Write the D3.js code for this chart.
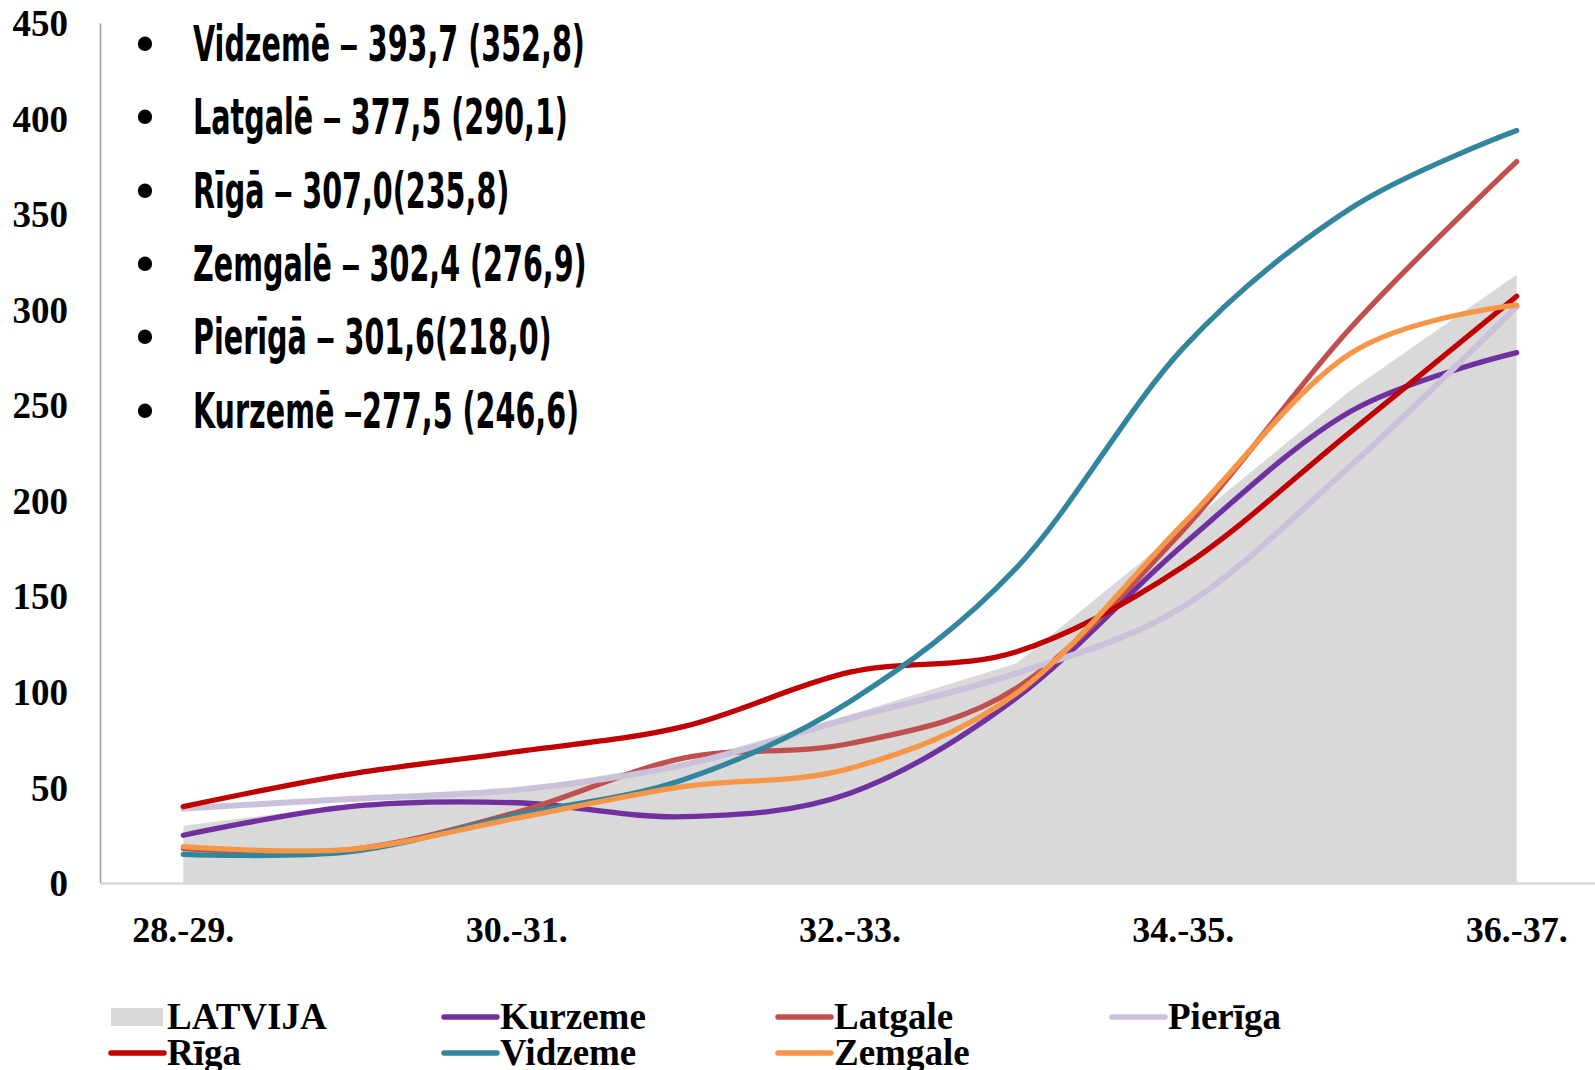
<!DOCTYPE html>
<html>
<head>
<meta charset="utf-8">
<script src="https://cdn.jsdelivr.net/npm/d3@7"></script>
<style>
  html, body { margin: 0; padding: 0; background: #ffffff; }
  svg { display: block; }
  .serif { font-family: "Liberation Serif", "Times New Roman", serif; font-weight: bold; fill: #000; }
  .note { font-family: "Liberation Sans Narrow", "DejaVu Sans Condensed", "Liberation Sans", sans-serif; font-weight: bold; fill: #000; }
  .dash { font-family: "Liberation Sans", Arial, sans-serif; font-weight: bold; }
</style>
</head>
<body>
<svg id="chart" width="1595" height="1070"></svg>
<script>
// ---------- data ----------
const categories = ["28.-29.", "29.-30.", "30.-31.", "31.-32.", "32.-33.", "33.-34.", "34.-35.", "35.-36.", "36.-37."];
const tickLabels = ["28.-29.", "30.-31.", "32.-33.", "34.-35.", "36.-37."];
const yTicks = [0, 50, 100, 150, 200, 250, 300, 350, 400, 450];

const latvija  = [30, 41, 49, 63, 88, 115, 186, 257.6, 318.3];
const kurzeme  = [25, 40, 42, 34.7, 47, 97, 177, 246.6, 277.5];
const latgale  = [18, 17.5, 37, 65.3, 73, 102, 184.8, 290.1, 377.5];
const pieriga  = [39, 44, 48.7, 61.8, 86.2, 109.8, 144.7, 218.0, 301.6];
const riga     = [40, 57, 68.7, 81.8, 110.3, 121, 165.6, 235.8, 307.0];
const vidzeme  = [15, 16.4, 35.6, 54, 95, 165, 280, 352.8, 393.7];
const zemgale  = [19, 17.6, 33.9, 50.4, 60, 99.3, 188, 276.9, 302.4];

const seriesNames = ["Kurzeme", "Latgale", "Pierīga", "Rīga", "Vidzeme", "Zemgale"];
const seriesValues = [kurzeme, latgale, pieriga, riga, vidzeme, zemgale];
const seriesColors = ["#7030a0", "#c0504d", "#ccc1da", "#c00000", "#31859c", "#f79646"];
const areaName = "LATVIJA";
const areaColor = "#d9d9d9";

const notes = [
  "Vidzemē – 393,7 (352,8)",
  "Latgalē – 377,5 (290,1)",
  "Rīgā – 307,0(235,8)",
  "Zemgalē – 302,4 (276,9)",
  "Pierīgā – 301,6(218,0)",
  "Kurzemē –277,5 (246,6)"
];

// ---------- layout ----------
const svg = d3.select("#chart");
const plotLeft = 100, plotRight = 1600, plotTop = 23, plotBottom = 883;

const x = d3.scaleBand().domain(categories).range([plotLeft, plotRight]).padding(0);
const cx = c => x(c) + x.bandwidth() / 2;
const y = d3.scaleLinear().domain([0, 450]).range([plotBottom, plotTop]);

// area
const area = d3.area()
  .x((d, i) => cx(categories[i]))
  .y0(y(0))
  .y1(d => y(d))
  .curve(d3.curveLinear);
svg.append("path")
  .datum(latvija)
  .attr("d", area)
  .attr("fill", areaColor);

// axes
const yAxis = d3.axisLeft(y).tickValues(yTicks).tickSize(0).tickSizeOuter(0).tickPadding(32);
const gy = svg.append("g").attr("transform", `translate(${plotLeft},0)`).call(yAxis);
gy.select(".domain").attr("stroke", "#999999").attr("stroke-width", 1.5);
gy.selectAll("text").attr("class", "serif").style("font-size", "37px").attr("dy", "0.34em");

const xAxis = d3.axisBottom(x).tickValues(tickLabels).tickSize(0).tickSizeOuter(0);
const gx = svg.append("g").attr("transform", `translate(0,${plotBottom})`).call(xAxis);
gx.select(".domain").attr("stroke", "#d9d9d9").attr("stroke-width", 2.5);
gx.selectAll("text").attr("class", "serif").style("font-size", "36px").attr("y", 59).attr("dy", 0);

// lines
const line = d3.line()
  .x((d, i) => cx(categories[i]))
  .y(d => y(d))
  .curve(d3.curveCardinal.tension(0));

seriesValues.forEach((vals, k) => {
  svg.append("path")
    .datum(vals)
    .attr("d", line)
    .attr("fill", "none")
    .attr("stroke", seriesColors[k])
    .attr("stroke-width", seriesNames[k] === "Pierīga" ? 6 : 5.3)
    .attr("stroke-linecap", "round")
    .attr("stroke-linejoin", "round");
});

// annotation list
const noteG = svg.append("g");
const noteX = 193, noteY0 = 61, noteStep = 73.3;
notes.forEach((t, i) => {
  noteG.append("text")
    .attr("class", "note")
    .attr("x", 145).attr("y", noteY0 - 1 + i * noteStep)
    .attr("text-anchor", "middle")
    .style("font-size", "50px")
    .style("font-family", "'Liberation Sans', Arial, sans-serif")
    .text("•");
});
const noteTexts = notes.map((t, i) => {
  const tx = noteG.append("text")
    .attr("class", "note")
    .attr("x", 0).attr("y", 0)
    .style("font-size", "50px");
  const parts = t.split("–");
  parts.forEach((p, j) => {
    if (j > 0) tx.append("tspan").attr("class", "dash").text("–");
    tx.append("tspan").text(p);
  });
  return tx;
});
const w0 = noteTexts[0].node().getComputedTextLength();
const sx = 392 / w0;
noteTexts.forEach((tx, i) => {
  tx.attr("transform", `translate(${noteX},${noteY0 + i * noteStep}) scale(${sx},1)`);
});

// legend
const legendCols = [109, 442, 776, 1110];
const legendRows = [1017, 1053];
const legendItems = [{ name: areaName, color: areaColor, area: true }]
  .concat(seriesNames.map((n, k) => ({ name: n, color: seriesColors[k], area: false })));
legendItems.forEach((it, i) => {
  const col = i % 4, row = Math.floor(i / 4);
  const lx = legendCols[col], ly = legendRows[row];
  if (it.area) {
    svg.append("rect").attr("x", lx + 2).attr("y", ly - 9).attr("width", 52).attr("height", 18).attr("fill", it.color);
  } else {
    svg.append("line").attr("x1", lx + 2).attr("x2", lx + 55).attr("y1", ly).attr("y2", ly)
      .attr("stroke", it.color).attr("stroke-width", 5.5).attr("stroke-linecap", "round");
  }
  svg.append("text").attr("class", "serif")
    .attr("x", lx + 58).attr("y", ly + 12)
    .style("font-size", "37px")
    .text(it.name);
});
</script>
</body>
</html>
